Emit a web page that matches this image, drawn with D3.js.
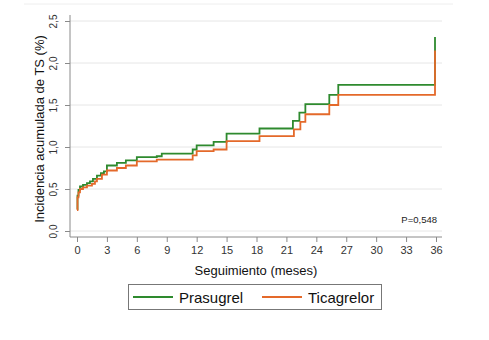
<!DOCTYPE html>
<html>
<head>
<meta charset="utf-8">
<script src="https://cdn.jsdelivr.net/npm/d3@7"></script>
<style>
body{margin:0;background:#fff;}
svg{display:block;font-family:"Liberation Sans",Arial,sans-serif;}
</style>
</head>
<body>
<svg width="489" height="340"></svg>
<script>
// step data (months, cumulative incidence %)
var timeP = [0,0.05,0.15,0.3,0.6,1.0,1.3,1.6,2.0,2.4,2.7,3.0,4.0,4.9,6.0,8.0,8.5,11.6,12.0,13.7,15.0,18.3,21.65,22.3,22.9,25.3,26.2,35.9];
var prasugrel = [0.26,0.42,0.49,0.53,0.55,0.57,0.59,0.62,0.66,0.69,0.71,0.78,0.81,0.84,0.88,0.89,0.92,0.97,1.02,1.06,1.16,1.22,1.31,1.41,1.51,1.62,1.74,2.31];
var timeT = [0,0.05,0.15,0.3,0.6,1.0,1.5,1.8,2.0,2.5,3.0,4.0,4.9,6.0,8.0,11.6,12.0,13.7,15.0,18.3,21.75,22.4,22.9,25.3,26.2,35.9];
var ticagrelor = [0.25,0.40,0.46,0.50,0.52,0.54,0.56,0.59,0.62,0.67,0.72,0.75,0.78,0.83,0.85,0.90,0.95,0.97,1.07,1.13,1.21,1.30,1.39,1.50,1.62,2.15];
var xTicks = [0,3,6,9,12,15,18,21,24,27,30,33,36];
var yTicks = [0,0.5,1,1.5,2,2.5];
var seriesNames = ['Prasugrel','Ticagrelor'];
var seriesColors = ['#2e8a2e','#e4692a'];

var svg = d3.select('svg');
var x = d3.scaleLinear().domain([0,36]).range([77,436]);
var y = d3.scaleLinear().domain([0,2.5]).range([231,21]);
var fmt = d => d3.format('.1f')(d).replace('.',',');

// faint outer border
svg.append('line').attr('x1',24).attr('x2',453).attr('y1',4).attr('y2',4)
	.attr('stroke','#eeeeee').attr('stroke-width',1);

// gridlines
svg.append('g').selectAll('line').data(yTicks).enter().append('line')
	.attr('x1',70).attr('x2',442)
	.attr('y1',d=>y(d)).attr('y2',d=>y(d))
	.attr('stroke','#e6e6e6').attr('stroke-width',1);

// y axis
var ya = svg.append('g').attr('transform','translate(70,0)')
	.call(d3.axisLeft(y).tickValues(yTicks).tickSize(5).tickFormat(fmt));
ya.select('.domain').attr('d','M0,15V237').attr('stroke','#8a8a8a');
ya.selectAll('.tick line').attr('stroke','#8a8a8a');
ya.selectAll('.tick text').attr('transform','rotate(-90)')
	.attr('x',0).attr('y',-13).attr('dy','0').attr('text-anchor','middle')
	.attr('font-size','10px').attr('fill','#333');

// x axis
var xa = svg.append('g').attr('transform','translate(0,237)')
	.call(d3.axisBottom(x).tickValues(xTicks).tickSize(5));
xa.select('.domain').attr('d','M70,0H442').attr('stroke','#8a8a8a');
xa.selectAll('.tick line').attr('stroke','#8a8a8a');
xa.selectAll('.tick text').attr('y',9).attr('font-size','11px').attr('fill','#333');

// axis titles
svg.append('text').attr('x',256).attr('y',275).attr('text-anchor','middle')
	.attr('font-size','13px').attr('fill','#111').text('Seguimiento (meses)');
svg.append('text').attr('transform','translate(44,129) rotate(-90)').attr('text-anchor','middle')
	.attr('font-size','13px').attr('fill','#111').text('Incidencia acumulada de TS (%)');

// curves
var line = d3.line().x(d=>x(d[0])).y(d=>y(d[1])).curve(d3.curveStepAfter);
var dataP = timeP.map((t,i)=>[t,prasugrel[i]]);
var dataT = timeT.map((t,i)=>[t,ticagrelor[i]]);
svg.append('path').datum(dataP).attr('d',line).attr('fill','none')
	.attr('stroke',seriesColors[0]).attr('stroke-width',1.8);
svg.append('path').datum(dataT).attr('d',line).attr('fill','none')
	.attr('stroke',seriesColors[1]).attr('stroke-width',1.8);

// p value
svg.append('text').attr('x',437).attr('y',223).attr('text-anchor','end')
	.attr('font-size','9.5px').attr('fill','#222').text('P=0,548');

// legend
var lg = svg.append('g');
lg.append('rect').attr('x',128.5).attr('y',284.5).attr('width',253).attr('height',25)
	.attr('fill','#fff').attr('stroke','#777').attr('stroke-width',1);
var lx = [133,262];
seriesNames.forEach(function(n,i){
	lg.append('line').attr('x1',lx[i]).attr('x2',lx[i]+40).attr('y1',297).attr('y2',297)
		.attr('stroke',seriesColors[i]).attr('stroke-width',1.8);
	lg.append('text').attr('x',lx[i]+46).attr('y',302.5).attr('font-size','15px')
		.attr('fill','#111').text(n);
});
</script>
</body>
</html>
